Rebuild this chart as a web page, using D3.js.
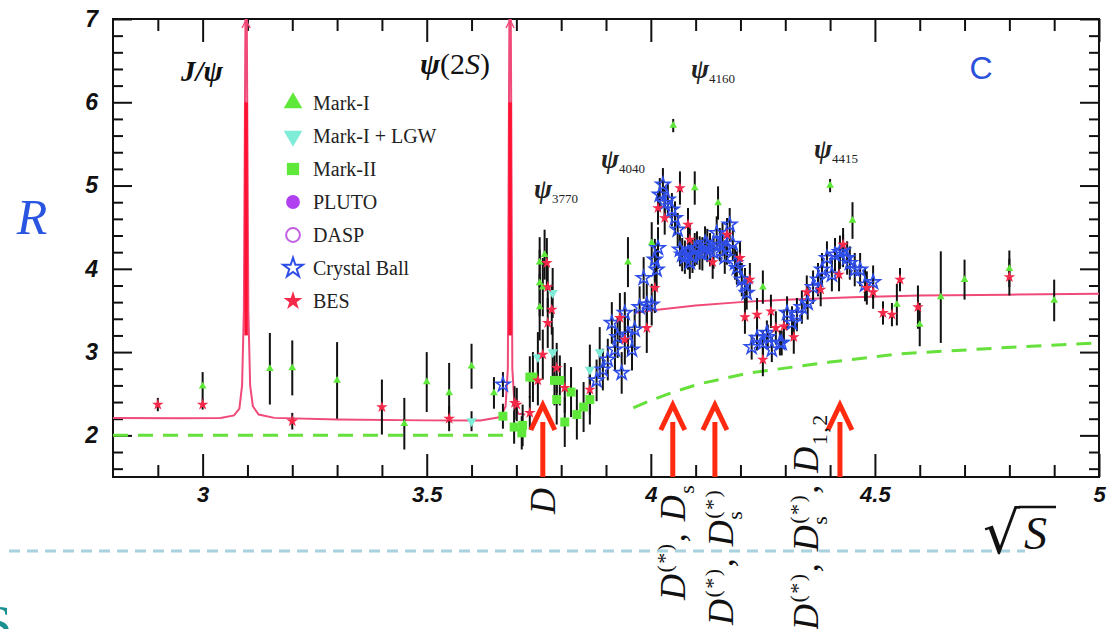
<!DOCTYPE html>
<html>
<head>
  <meta charset="UTF-8" />
  <title>R ratio</title>
  <script src="https://d3js.org/d3.v7.min.js"></script>
  <style>
    body { margin: 0; background: #fff; }
    svg { display: block; }
  </style>
</head>
<body>
<div id="chart"></div>
<script>
  // data: [sqrt(s), R, error]
  var markI = [
    [3.00, 2.59, 0.17], [3.15, 2.80, 0.43], [3.20, 2.81, 0.33], [3.30, 2.66, 0.46],
    [3.45, 2.14, 0.31], [3.50, 2.64, 0.36], [3.55, 2.51, 0.36], [3.60, 2.83, 0.27],
    [3.65, 2.51, 0.19], [3.752, 4.08, 0.3], [3.763, 4.17, 0.3], [3.752, 3.83, 0.4],
    [3.759, 3.78, 0.35], [3.752, 3.54, 0.4], [3.949, 4.08, 0.3], [4.002, 4.31, 0.25],
    [4.05, 5.72, 0.08], [4.098, 4.97, 0.2], [4.150, 4.79, 0.2], [4.25, 3.78, 0.2],
    [4.40, 5.00, 0.08], [4.45, 4.58, 0.22], [4.549, 3.57, 0.25], [4.60, 3.33, 0.26],
    [4.647, 3.66, 0.55], [4.70, 3.87, 0.24], [4.80, 4.00, 0.22], [4.90, 3.62, 0.25]
  ];
  var markILGW = [
    [3.60, 2.17, 0.12], [3.781, 3.71, 0.3], [3.781, 3.00, 0.3], [3.748, 2.94, 0.3],
    [3.886, 3.00, 0.3], [3.864, 2.79, 0.3]
  ];
  var markII = [
    [3.67, 2.23, 0.15], [3.695, 2.10, 0.2], [3.714, 2.12, 0.25], [3.712, 2.03, 0.2],
    [3.730, 2.70, 0.25], [3.737, 2.70, 0.3], [3.785, 2.66, 0.3], [3.797, 2.66, 0.3],
    [3.790, 2.43, 0.3], [3.808, 2.16, 0.3], [3.822, 2.52, 0.3], [3.835, 2.25, 0.3],
    [3.850, 2.34, 0.3], [3.864, 2.43, 0.3]
  ];
  var bes = [
    [2.90, 2.37, 0.08], [3.00, 2.37, 0.06], [3.20, 2.17, 0.10], [3.40, 2.34, 0.33],
    [3.55, 2.20, 0.15], [3.696, 2.39, 0.2], [3.701, 2.37, 0.2], [3.730, 2.27, 0.2],
    [3.768, 4.07, 0.3], [3.770, 3.78, 0.3], [3.779, 3.51, 0.3], [3.770, 3.35, 0.3],
    [3.759, 2.97, 0.3], [3.748, 2.66, 0.3], [3.790, 2.81, 0.3], [3.808, 2.57, 0.3],
    [3.864, 2.55, 0.3], [3.931, 3.41, 0.3], [3.942, 3.15, 0.3], [3.991, 3.29, 0.3],
    [4.009, 3.77, 0.3], [4.016, 4.73, 0.2], [4.031, 4.61, 0.2], [4.065, 4.97, 0.2],
    [4.083, 4.53, 0.2], [4.087, 4.35, 0.2], [4.138, 4.08, 0.2], [4.170, 4.41, 0.2],
    [4.199, 4.13, 0.2], [4.210, 3.42, 0.2], [4.221, 3.87, 0.2], [4.237, 3.45, 0.2],
    [4.250, 2.91, 0.2], [4.268, 3.49, 0.2], [4.279, 3.29, 0.2], [4.297, 3.31, 0.2],
    [4.319, 3.18, 0.2], [4.348, 3.72, 0.2], [4.379, 3.75, 0.2], [4.420, 3.93, 0.2],
    [4.429, 4.29, 0.2], [4.482, 3.77, 0.2], [4.496, 3.72, 0.2], [4.518, 3.47, 0.14],
    [4.538, 3.45, 0.14], [4.556, 3.87, 0.14], [4.596, 3.54, 0.26], [4.80, 3.90, 0.22]
  ];
  var crystalBall = [
    [3.67, 2.61, 0.15],
    [3.879, 2.66, 0.25], [3.893, 2.79, 0.25], [3.904, 2.91, 0.25], [3.913, 3.35, 0.25],
    [3.920, 3.03, 0.25], [3.926, 3.18, 0.25], [3.935, 2.75, 0.25], [3.942, 3.47, 0.25],
    [3.949, 3.21, 0.25], [3.958, 3.03, 0.25], [3.964, 3.27, 0.25], [3.975, 3.54, 0.25],
    [3.984, 3.89, 0.25], [3.991, 3.57, 0.25], [4.002, 3.57, 0.25], [4.009, 4.11, 0.25],
    [4.013, 3.99, 0.25], [4.016, 4.25, 0.25],
    [4.020, 4.89, 0.2], [4.027, 5.01, 0.2], [4.031, 4.79, 0.2], [4.038, 4.83, 0.2],
    [4.047, 4.71, 0.2], [4.054, 4.61, 0.2], [4.060, 4.47, 0.2], [4.065, 4.23, 0.2],
    [4.070, 4.17, 0.2], [4.076, 4.14, 0.2], [4.083, 4.19, 0.2], [4.087, 4.08, 0.2],
    [4.093, 4.15, 0.2], [4.098, 4.23, 0.2], [4.103, 4.25, 0.2], [4.109, 4.19, 0.2],
    [4.115, 4.18, 0.2], [4.121, 4.31, 0.2], [4.126, 4.28, 0.2], [4.132, 4.23, 0.2],
    [4.140, 4.20, 0.2], [4.147, 4.43, 0.2], [4.154, 4.29, 0.2], [4.160, 4.35, 0.2],
    [4.165, 4.14, 0.2], [4.170, 4.25, 0.2], [4.176, 4.53, 0.2], [4.183, 4.30, 0.2],
    [4.188, 4.07, 0.2], [4.192, 4.01, 0.2], [4.203, 3.87, 0.2], [4.210, 3.81, 0.2],
    [4.214, 3.71, 0.2],
    [4.225, 3.06, 0.15], [4.237, 3.17, 0.15], [4.250, 3.11, 0.15], [4.259, 3.23, 0.15],
    [4.261, 3.18, 0.15], [4.270, 3.03, 0.15], [4.288, 3.11, 0.15], [4.292, 3.11, 0.15],
    [4.304, 3.47, 0.2], [4.315, 3.35, 0.2], [4.326, 3.45, 0.2], [4.337, 3.54, 0.2],
    [4.350, 3.59, 0.2], [4.362, 3.78, 0.2], [4.373, 3.87, 0.2], [4.382, 3.99, 0.2],
    [4.393, 4.13, 0.2], [4.404, 3.93, 0.2], [4.411, 4.17, 0.2], [4.422, 4.20, 0.2],
    [4.429, 4.22, 0.2], [4.438, 4.13, 0.2], [4.444, 4.07, 0.2], [4.455, 3.99, 0.2],
    [4.467, 3.99, 0.2], [4.478, 3.81, 0.2], [4.496, 3.84, 0.2]
  ];

  // curves [sqrt(s), R]
  var redCurveLow = [
    [2.80, 2.21], [2.95, 2.205], [3.04, 2.21], [3.07, 2.24], [3.082, 2.32], [3.088, 2.6],
    [3.092, 3.5], [3.0945, 6.0], [3.0955, 7.0], [3.0985, 7.0], [3.0995, 6.0], [3.102, 3.5],
    [3.106, 2.6], [3.112, 2.35], [3.125, 2.25], [3.16, 2.21], [3.30, 2.19], [3.50, 2.18],
    [3.62, 2.18], [3.665, 2.22], [3.676, 2.35], [3.681, 2.8], [3.6835, 6.0], [3.6845, 7.0],
    [3.6875, 7.0], [3.6885, 6.0], [3.691, 2.8], [3.696, 2.35], [3.705, 2.26], [3.72, 2.25]
  ];
  var redCurveHigh = [
    [3.964, 3.47], [4.0, 3.50], [4.1, 3.56], [4.2, 3.60], [4.3, 3.63], [4.45, 3.66],
    [4.6, 3.68], [4.8, 3.69], [5.0, 3.70]
  ];
  var greenLow = [[2.80, 2.0], [3.69, 2.0]];
  var greenHigh = [
    [3.961, 2.33], [4.0, 2.42], [4.05, 2.52], [4.11, 2.62], [4.22, 2.75], [4.40, 2.88],
    [4.556, 2.98], [4.78, 3.05], [5.0, 3.11]
  ];
  var resonances = [3.097, 3.686];
  var thresholds = [3.759, 4.049, 4.143, 4.422];

  var xMajor = [3, 3.5, 4, 4.5, 5];
  var yMajor = [2, 3, 4, 5, 6, 7];
  var legendNames = ["Mark-I", "Mark-I + LGW", "Mark-II", "PLUTO", "DASP", "Crystal Ball", "BES"];

  var W = 1108, H = 629;
  var svg = d3.select("#chart").append("svg").attr("width", W).attr("height", H);

  var xScale = d3.scaleLinear().domain([2.8, 5]).range([113, 1099]);
  var yScale = d3.scaleLinear().domain([1.5, 7]).range([477, 19]);

  var xMinor = d3.range(29, 50).filter(i => i % 5 !== 0).map(i => i / 10);
  var yMinor = d3.range(8, 35).filter(i => i % 5 !== 0).map(i => i / 5);

  svg.append("defs").append("clipPath").attr("id", "plotclip")
    .append("rect").attr("x", 113).attr("y", 19).attr("width", 986).attr("height", 458);

  // axes (ticks pointing inside the frame)
  function addAxis(axis, tf) {
    var g = svg.append("g").attr("transform", tf).call(axis);
    g.select(".domain").remove();
    g.selectAll("line").attr("stroke", "#111").attr("stroke-width", 2);
    return g;
  }
  addAxis(d3.axisBottom(xScale).tickValues(xMinor).tickSize(-12).tickFormat(""), "translate(0,477)");
  var xb = addAxis(d3.axisBottom(xScale).tickValues(xMajor).tickSize(-23).tickPadding(9).tickFormat(d3.format("")), "translate(0,477)");
  xb.selectAll("text").attr("font-family", "Liberation Sans").attr("font-weight", "bold")
    .attr("font-style", "italic").attr("font-size", 22).attr("fill", "#111");
  addAxis(d3.axisTop(xScale).tickValues(xMinor).tickSize(-12).tickFormat(""), "translate(0,19)");
  addAxis(d3.axisTop(xScale).tickValues(xMajor).tickSize(-23).tickFormat(""), "translate(0,19)");
  addAxis(d3.axisLeft(yScale).tickValues(yMinor).tickSize(-10).tickFormat(""), "translate(113,0)");
  var yl = addAxis(d3.axisLeft(yScale).tickValues(yMajor).tickSize(-19).tickPadding(15).tickFormat(d3.format("d")), "translate(113,0)");
  yl.selectAll("text").attr("font-family", "Liberation Sans").attr("font-weight", "bold")
    .attr("font-style", "italic").attr("font-size", 23).attr("fill", "#111");
  addAxis(d3.axisRight(yScale).tickValues(yMinor).tickSize(-10).tickFormat(""), "translate(1099,0)");
  addAxis(d3.axisRight(yScale).tickValues(yMajor).tickSize(-19).tickFormat(""), "translate(1099,0)");

  svg.append("rect").attr("x", 113).attr("y", 19).attr("width", 986).attr("height", 458)
    .attr("fill", "none").attr("stroke", "#111").attr("stroke-width", 2);

  var plot = svg.append("g").attr("clip-path", "url(#plotclip)");
  var line = d3.line().x(d => xScale(d[0])).y(d => yScale(d[1]));

  // theory curves
  [greenLow, greenHigh].forEach(function (c) {
    plot.append("path").attr("d", line(c)).attr("fill", "none")
      .attr("stroke", "#66e03a").attr("stroke-width", 3).attr("stroke-dasharray", "15,10");
  });
  [redCurveLow, redCurveHigh].forEach(function (c) {
    plot.append("path").attr("d", line(c)).attr("fill", "none")
      .attr("stroke", "#f04a78").attr("stroke-width", 2);
  });
  resonances.forEach(function (m) {
    plot.append("line").attr("x1", xScale(m)).attr("x2", xScale(m))
      .attr("y1", yScale(6)).attr("y2", yScale(3.2))
      .attr("stroke", "#ff1133").attr("stroke-width", 3.5);
    plot.append("path")
      .attr("d", "M" + (xScale(m) - 4) + "," + (yScale(7) + 9) + "L" + xScale(m) + "," + (yScale(7) + 1) +
        "L" + (xScale(m) + 4) + "," + (yScale(7) + 9))
      .attr("fill", "none").attr("stroke", "#f04a78").attr("stroke-width", 1.5);
  });

  // error bars
  var allSets = [markI, markILGW, markII, bes, crystalBall];
  allSets.forEach(function (set) {
    plot.selectAll(null).data(set).enter().append("line")
      .attr("x1", d => xScale(d[0])).attr("x2", d => xScale(d[0]))
      .attr("y1", d => yScale(d[1] - d[2])).attr("y2", d => yScale(d[1] + d[2]))
      .attr("stroke", "#111").attr("stroke-width", 2);
  });

  var series = [
    { data: markI, type: d3.symbolTriangle, size: 26, fill: "#5ee83a", stroke: "none", rot: 0 },
    { data: markILGW, type: d3.symbolTriangle, size: 45, fill: "#7eecd6", stroke: "none", rot: 180 },
    { data: markII, type: d3.symbolSquare, size: 80, fill: "#5ee83a", stroke: "none", rot: 0 },
    { data: [], type: d3.symbolCircle, size: 60, fill: "#b040f0", stroke: "none", rot: 0 },
    { data: [], type: d3.symbolCircle, size: 60, fill: "none", stroke: "#c060e0", rot: 0 },
    { data: crystalBall, type: d3.symbolStar, size: 62, fill: "none", stroke: "#2f4ee8", rot: 0 },
    { data: bes, type: d3.symbolStar, size: 42, fill: "#f52a4a", stroke: "none", rot: 0 }
  ];
  series.forEach(function (s) {
    plot.selectAll(null).data(s.data).enter().append("path")
      .attr("d", d3.symbol().type(s.type).size(s.size))
      .attr("transform", d => "translate(" + xScale(d[0]) + "," + yScale(d[1]) + ") rotate(" + s.rot + ")")
      .attr("fill", s.fill).attr("stroke", s.stroke).attr("stroke-width", 1.6);
  });

  // legend
  var leg = svg.append("g");
  legendNames.forEach(function (name, i) {
    var s = series[i];
    var yy = 103 + i * 33;
    var big = i === 5 ? 120 : (i === 6 ? 110 : 150);
    leg.append("path").attr("d", d3.symbol().type(s.type).size(big))
      .attr("transform", "translate(293," + yy + ") rotate(" + s.rot + ")")
      .attr("fill", s.fill).attr("stroke", s.stroke).attr("stroke-width", 2);
    leg.append("text").attr("x", 313).attr("y", yy + 7).text(name)
      .attr("font-family", "Liberation Serif").attr("font-size", 20).attr("fill", "#222");
  });

  // threshold arrows
  thresholds.forEach(function (t) {
    var xx = xScale(t);
    svg.append("line").attr("x1", xx).attr("x2", xx).attr("y1", 477).attr("y2", 422)
      .attr("stroke", "#ff2a10").attr("stroke-width", 5);
    svg.append("path").attr("d", "M" + (xx - 12) + ",430L" + xx + ",405L" + (xx + 12) + ",430")
      .attr("fill", "none").attr("stroke", "#ff2a10").attr("stroke-width", 5)
      .attr("stroke-linejoin", "miter");
  });

  // rotated threshold labels; parts: [text, level]; "under" = subscript stacked below the previous superscript
  var levels = { base: 0, sup: -13, sub: 9, under: 9 };
  function rotLabel(x, y, parts) {
    var t = svg.append("text").attr("transform", "translate(" + x + "," + y + ") rotate(-90)")
      .attr("font-family", "Liberation Serif").attr("font-style", "italic")
      .attr("font-size", 36).attr("letter-spacing", 1.5).attr("fill", "#111");
    var cur = 0, prev = null, restore = 0;
    parts.forEach(function (p) {
      var lv = levels[p[1]];
      var sp = t.append("tspan").text(p[0]).attr("dy", lv - cur);
      if (p[1] !== "base") sp.attr("font-size", 22).attr("font-style", "normal");
      var dx = restore;
      restore = 0;
      if (p[1] === "under" && prev) {
        var supLen = prev.node().getComputedTextLength();
        dx = -supLen - 1;
        restore = Math.max(0, supLen + 1 - sp.node().getComputedTextLength());
      }
      if (dx) sp.attr("dx", dx);
      cur = lv;
      prev = sp;
    });
  }
  rotLabel(555, 514, [["D", "base"]]);
  rotLabel(685, 600, [["D", "base"], ["(*)", "sup"], [", ", "base"], ["D", "base"], ["s", "sub"]]);
  rotLabel(733, 625, [["D", "base"], ["(*)", "sup"], [", ", "base"], ["D", "base"], ["(*)", "sup"], ["s", "under"]]);
  rotLabel(818, 630, [["D", "base"], ["(*)", "sup"], [", ", "base"], ["D", "base"], ["(*)", "sup"], ["s", "under"],
    [", ", "base"], ["D", "base"], ["1,2", "sub"]]);

  // resonance labels
  function psiLabel(x, y, sub) {
    var t = svg.append("text").attr("x", x).attr("y", y)
      .attr("font-family", "Liberation Serif").attr("fill", "#222");
    t.append("tspan").text("ψ").attr("font-size", 27).attr("font-style", "italic").attr("font-weight", "bold");
    t.append("tspan").text(sub).attr("font-size", 13).attr("dy", 5);
  }
  psiLabel(534, 198, "3770");
  psiLabel(601, 168, "4040");
  psiLabel(691, 78, "4160");
  psiLabel(814, 158, "4415");

  svg.append("text").attr("x", 181).attr("y", 81).text("J/ψ")
    .attr("font-family", "Liberation Serif").attr("font-style", "italic").attr("font-weight", "bold")
    .attr("font-size", 29).attr("fill", "#111");
  var p2 = svg.append("text").attr("x", 420).attr("y", 74)
    .attr("font-family", "Liberation Serif").attr("font-size", 30).attr("fill", "#111");
  p2.append("tspan").text("ψ").attr("font-style", "italic").attr("font-weight", "bold");
  p2.append("tspan").text("(2");
  p2.append("tspan").text("S").attr("font-style", "italic");
  p2.append("tspan").text(")");

  // axis titles
  svg.append("text").attr("x", 32).attr("y", 234).attr("text-anchor", "middle").text("R")
    .attr("font-family", "Liberation Serif").attr("font-style", "italic").attr("font-size", 50)
    .attr("fill", "#2a55e0");
  svg.append("text").attr("x", 981).attr("y", 79).attr("text-anchor", "middle").text("C")
    .attr("font-family", "Liberation Sans").attr("font-size", 32).attr("fill", "#2a50dc");

  // separator line
  svg.append("line").attr("x1", 9).attr("x2", 1025).attr("y1", 551).attr("y2", 551)
    .attr("stroke", "#a8d2de").attr("stroke-width", 3).attr("stroke-dasharray", "11,7");

  svg.append("text").attr("x", 983).attr("y", 553).text("√")
    .attr("font-family", "DejaVu Serif").attr("font-size", 58).attr("fill", "#111");
  svg.append("line").attr("x1", 1019).attr("x2", 1056).attr("y1", 507).attr("y2", 507)
    .attr("stroke", "#111").attr("stroke-width", 2.5);
  svg.append("text").attr("x", 1024).attr("y", 549).text("S")
    .attr("font-family", "Liberation Serif").attr("font-style", "italic").attr("font-size", 46).attr("fill", "#111");

  svg.append("text").attr("x", -16).attr("y", 640).text("S")
    .attr("font-family", "Liberation Serif").attr("font-size", 50).attr("fill", "#1a9090");
</script>
</body>
</html>
